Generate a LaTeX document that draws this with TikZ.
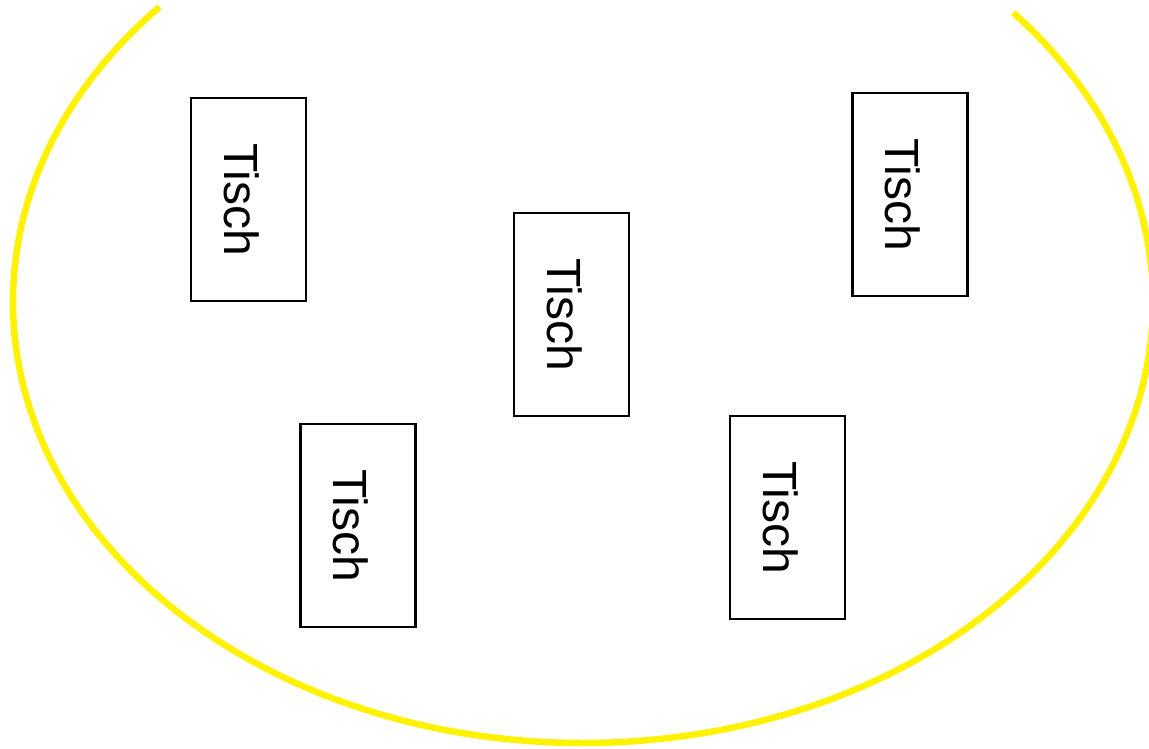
\documentclass[tikz,border=0pt]{standalone}
\usepackage{fontspec}
\setmainfont{Liberation Sans}
\begin{document}
\begin{tikzpicture}[x=1pt, y=1pt,
	tisch/.style={draw, line width=2.5pt, rotate=-90, inner sep=0pt,
		minimum width=203pt, minimum height=115pt,
		font=\fontsize{48}{48}\selectfont, text height=49pt, text depth=0pt},
	raum/.style={yellow, line width=6.5pt}]
	% Maße des Raumes
	\def\Rx{570}
	\def\Ry{441}
	
	% --- Rahmen ---
	\useasboundingbox (0,0) rectangle (1149,-749);
	\clip (0,0) rectangle (1149,-749);
	
	% --- Raum (Ellipse, oben offen) ---
	\coordinate (mitte) at (583,-302);
	\draw[raum] (mitte) ++({\Rx*cos(138)},{\Ry*sin(138)}) arc[start angle=138, end angle=401, x radius=\Rx, y radius=\Ry];
	
	% --- Tische ---
	\node[tisch] (tisch1) at (248.5,-199.5) {Tisch};
	\node[tisch] (tisch2) at (571.5,-314.5) {Tisch};
	\node[tisch] (tisch3) at (910,-194.5) {Tisch};
	\node[tisch] (tisch4) at (358,-525.5) {Tisch};
	\node[tisch] (tisch5) at (787.5,-517.5) {Tisch};
\end{tikzpicture}
\end{document}
